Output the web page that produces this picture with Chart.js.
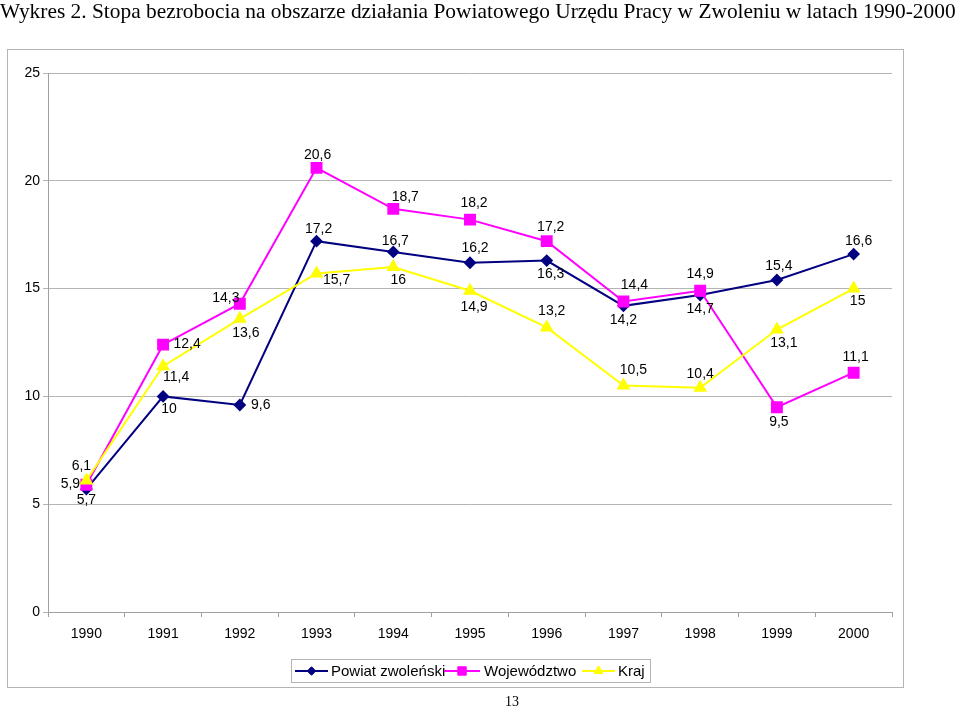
<!DOCTYPE html>
<html>
<head>
<meta charset="utf-8">
<script src="https://cdn.jsdelivr.net/npm/chart.js@4.4.1/dist/chart.umd.min.js"></script>
<style>
  html, body { margin: 0; padding: 0; background: #fff; }
  body { width: 960px; height: 708px; position: relative; overflow: hidden; }
  #title { position: absolute; left: 0; top: -1px; font-family: "Liberation Serif", "Times New Roman", serif; font-size: 21.4px; line-height: 24px; color: #000; white-space: nowrap; }
  #page { position: absolute; left: 505px; top: 694px; font-family: "Liberation Serif", "Times New Roman", serif; font-size: 14px; line-height: 16px; color: #000; }
  #wrap { position: absolute; left: 0; top: 0; width: 960px; height: 708px; }
</style>
</head>
<body>
<div id="wrap"><canvas id="c" width="960" height="708"></canvas></div>
<div id="title">Wykres 2. Stopa bezrobocia na obszarze działania Powiatowego Urzędu Pracy w Zwoleniu w latach 1990-2000</div>
<div id="page">13</div>
<script>
const years = ["1990","1991","1992","1993","1994","1995","1996","1997","1998","1999","2000"];
const seriesNames = ["Powiat zwoleński", "Województwo", "Kraj"];
const powiat = [5.7, 10, 9.6, 17.2, 16.7, 16.2, 16.3, 14.2, 14.7, 15.4, 16.6];
const wojewodztwo = [5.9, 12.4, 14.3, 20.6, 18.7, 18.2, 17.2, 14.4, 14.9, 9.5, 11.1];
const kraj = [6.1, 11.4, 13.6, 15.7, 16, 14.9, 13.2, 10.5, 10.4, 13.1, 15];
const yTicks = [0, 5, 10, 15, 20, 25];

// label offsets (dx, dy) relative to each point
const powiatLabelPos = [[0,11],[6,13],[21,0],[2,-12],[2,-11],[5,-15],[4,14],[0,14],[0,14],[2,-14],[5,-13]];
const wojLabelPos = [[-16,-1],[24,-1],[-14,-6],[1,-13],[12,-12],[4,-16],[4,-14],[11,-16],[0,-17],[2,15],[2,-16]];
const krajLabelPos = [[-5,-14],[13,11],[6,14],[20,7],[5,13],[4,16],[5,-16],[10,-15],[0,-14],[7,14],[4,13]];

const fmt = v => String(v).replace('.', ',');

const labelPlugin = {
  id: 'valueLabels',
  afterDatasetsDraw(chart) {
    const ctx = chart.ctx;
    const offs = [powiatLabelPos, wojLabelPos, krajLabelPos];
    ctx.save();
    ctx.font = '14px "Liberation Sans", Arial, sans-serif';
    ctx.fillStyle = '#000';
    ctx.textAlign = 'center';
    ctx.textBaseline = 'middle';
    chart.data.datasets.forEach((ds, di) => {
      const meta = chart.getDatasetMeta(di);
      meta.data.forEach((pt, i) => {
        const o = offs[di][i];
        ctx.fillText(fmt(ds.data[i]), pt.x + o[0], pt.y + o[1]);
      });
    });
    ctx.restore();
  }
};

const framePlugin = {
  id: 'frame',
  beforeDraw(chart) {
    const ctx = chart.ctx;
    ctx.save();
    ctx.fillStyle = '#fff';
    ctx.fillRect(0, 0, chart.width, chart.height);
    ctx.strokeStyle = '#b4b4b4';
    ctx.lineWidth = 1;
    ctx.strokeRect(7.5, 49.5, 896, 638);
    ctx.restore();
  },
  afterDraw(chart) {
    const ctx = chart.ctx;
    ctx.save();
    ctx.strokeStyle = '#b4b4b4';
    ctx.lineWidth = 1;
    ctx.strokeRect(291.5, 659.5, 359, 23);
    ctx.font = '15px "Liberation Sans", Arial, sans-serif';
    ctx.textBaseline = 'middle';
    ctx.textAlign = 'left';
    const items = [
      {x0: 295, x1: 328, tx: 331},
      {x0: 444, x1: 480, tx: 484},
      {x0: 582, x1: 615, tx: 618}
    ];
    const y = 671;
    chart.data.datasets.forEach((ds, di) => {
      const it = items[di];
      ctx.strokeStyle = ds.borderColor;
      ctx.lineWidth = 2;
      ctx.beginPath();
      ctx.moveTo(it.x0, y);
      ctx.lineTo(it.x1, y);
      ctx.stroke();
      ctx.save();
      ctx.fillStyle = ds.pointBackgroundColor;
      ctx.strokeStyle = ds.pointBorderColor;
      ctx.lineWidth = 1;
      Chart.helpers.drawPoint(ctx, {pointStyle: ds.pointStyle, radius: ds.pointRadius * 0.85, borderWidth: 1, rotation: 0}, (it.x0 + it.x1) / 2, y);
      ctx.restore();
      ctx.fillStyle = '#000';
      ctx.fillText(seriesNames[di], it.tx, y + 1);
    });
    ctx.restore();
  }
};

new Chart(document.getElementById('c'), {
  type: 'line',
  data: {
    labels: years,
    datasets: [
      {
        label: seriesNames[0], data: powiat,
        borderColor: '#000080', backgroundColor: '#000080',
        pointBackgroundColor: '#000080', pointBorderColor: '#000080',
        pointStyle: 'rectRot', pointRadius: 5, borderWidth: 2, order: 3, tension: 0
      },
      {
        label: seriesNames[1], data: wojewodztwo,
        borderColor: '#ff00ff', backgroundColor: '#ff00ff',
        pointBackgroundColor: '#ff00ff', pointBorderColor: '#ff00ff',
        pointStyle: 'rect', pointRadius: 7, borderWidth: 2, order: 2, tension: 0
      },
      {
        label: seriesNames[2], data: kraj,
        borderColor: '#ffff00', backgroundColor: '#ffff00',
        pointBackgroundColor: '#ffff00', pointBorderColor: '#ffff00',
        pointStyle: 'triangle', pointRadius: 6, borderWidth: 2, order: 1, tension: 0
      }
    ]
  },
  options: {
    responsive: false,
    animation: false,
    events: [],
    layout: { padding: { left: 0, top: 73, right: 68, bottom: 0 } },
    plugins: { legend: { display: false }, tooltip: { enabled: false }, title: { display: false } },
    scales: {
      x: {
        offset: true,
        grid: { drawOnChartArea: false, drawTicks: true, tickLength: 5, offset: true, color: '#a0a0a0' },
        border: { display: true, color: '#a0a0a0', width: 1 },
        ticks: { color: '#000', font: { family: '"Liberation Sans", Arial, sans-serif', size: 14 }, padding: 9, maxRotation: 0, autoSkip: false },
        afterFit(scale) { scale.height = 96; }
      },
      y: {
        min: 0, max: 25,
        afterBuildTicks(scale) { scale.ticks = yTicks.map(v => ({ value: v })); },
        grid: { color: '#b4b4b4', drawTicks: true, tickLength: 5 },
        border: { display: true, color: '#a0a0a0', width: 1 },
        ticks: { color: '#000', font: { family: '"Liberation Sans", Arial, sans-serif', size: 14 }, padding: 3 },
        afterFit(scale) { scale.width = 48; }
      }
    }
  },
  plugins: [framePlugin, labelPlugin]
});
</script>
</body>
</html>
